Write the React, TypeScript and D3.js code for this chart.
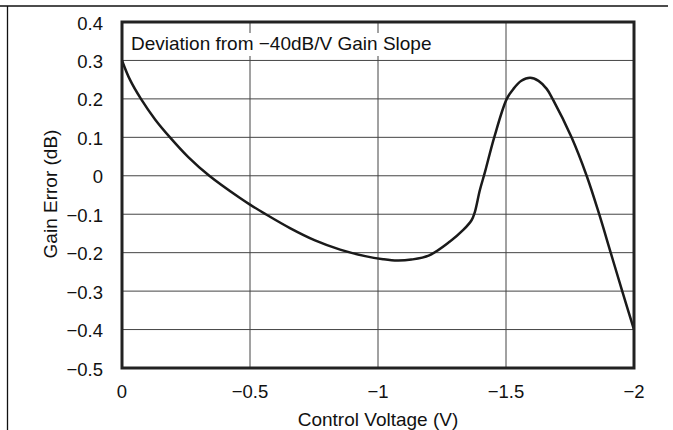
import React from "react";
import * as d3 from "d3";

const voltage = [0, -0.031, -0.074, -0.13, -0.1875, -0.26, -0.341, -0.461, -0.5, -0.559, -0.656, -0.754, -0.852, -0.95, -1.02, -1.075, -1.13, -1.2, -1.281, -1.333, -1.366, -1.378, -1.398, -1.418, -1.454, -1.503, -1.529, -1.56, -1.594, -1.627, -1.659, -1.682, -1.756, -1.815, -1.864, -1.909, -1.954, -2.0];
const gainError = [0.30, 0.25, 0.20, 0.146, 0.10, 0.048, 0.0, -0.058, -0.075, -0.099, -0.136, -0.168, -0.192, -0.209, -0.217, -0.2205, -0.218, -0.207, -0.171, -0.141, -0.115, -0.095, -0.037, 0.01, 0.1, 0.2, 0.226, 0.247, 0.255, 0.247, 0.226, 0.2, 0.1, 0.0, -0.1, -0.2, -0.3, -0.40];

const xTicks = [0, -0.5, -1, -1.5, -2];
const xTickLabels = ["0", "\u22120.5", "\u22121", "\u22121.5", "\u22122"];
const yTicks = [0.4, 0.3, 0.2, 0.1, 0, -0.1, -0.2, -0.3, -0.4, -0.5];
const yTickLabels = ["0.4", "0.3", "0.2", "0.1", "0", "\u22120.1", "\u22120.2", "\u22120.3", "\u22120.4", "\u22120.5"];

const title = "Deviation from \u221240dB/V Gain Slope";
const xTitle = "Control Voltage (V)";
const yTitle = "Gain Error (dB)";

const W = 673, H = 430;
const L = 122, R = 634, T = 22, B = 368;
const font = "'Liberation Sans', Arial, Helvetica, sans-serif";

export default function App() {
  const x = d3.scaleLinear().domain([0, -2]).range([L, R]);
  const y = d3.scaleLinear().domain([0.4, -0.5]).range([T, B]);
  const pts = voltage.map((v, i) => [v, gainError[i]] as [number, number]);
  const line = d3.line<[number, number]>().x(d => x(d[0])).y(d => y(d[1])).curve(d3.curveCatmullRom.alpha(0.5));

  return (
    <svg width={W} height={H} style={{ position: "absolute", left: 0, top: 0, background: "#fff" }} fontFamily={font}>
      <rect x={0} y={0} width={W} height={H} fill="#fff" />
      <line x1={0} x2={668} y1={6} y2={6} stroke="#111" strokeWidth={1.5} />
      <line x1={7.5} x2={7.5} y1={6} y2={H} stroke="#111" strokeWidth={1.3} />
      {xTicks.map((t, i) => (
        <line key={"gx" + i} x1={x(t)} x2={x(t)} y1={T} y2={B} stroke="#444" strokeWidth={1} />
      ))}
      {yTicks.map((t, i) => (
        <line key={"gy" + i} x1={L} x2={R} y1={y(t)} y2={y(t)} stroke="#444" strokeWidth={1} />
      ))}
      <rect x={L + 2} y={33} width={314} height={23} fill="#fff" />
      <text x={131} y={50} fontSize={19} fill="#111">{title}</text>
      <path d={line(pts) || ""} fill="none" stroke="#1a1a1a" strokeWidth={2.5} strokeLinejoin="round" />
      <rect x={L} y={T} width={R - L} height={B - T} fill="none" stroke="#222" strokeWidth={3} />
      {yTicks.map((t, i) => (
        <text key={"ty" + i} x={103} y={y(t) + 7.5} fontSize={18.5} textAnchor="end" fill="#111">{yTickLabels[i]}</text>
      ))}
      {xTicks.map((t, i) => (
        <text key={"tx" + i} x={x(t)} y={398} fontSize={18.5} textAnchor="middle" fill="#111">{xTickLabels[i]}</text>
      ))}
      <text x={378} y={426} fontSize={19} textAnchor="middle" fill="#111">{xTitle}</text>
      <text transform={`translate(57,194) rotate(-90)`} fontSize={19} textAnchor="middle" fill="#111">{yTitle}</text>
    </svg>
  );
}
